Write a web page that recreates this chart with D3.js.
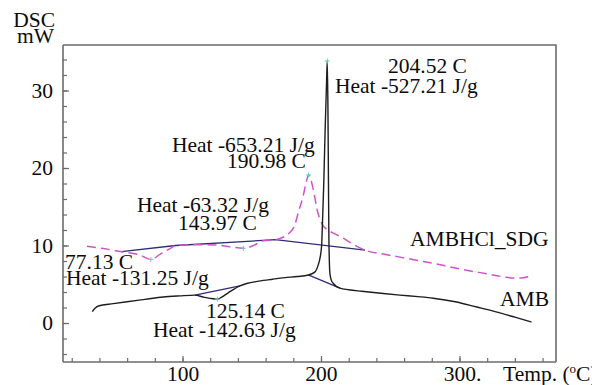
<!DOCTYPE html>
<html>
<head>
<meta charset="utf-8">
<script src="https://cdn.jsdelivr.net/npm/d3@7"></script>
<style>
  html, body { margin: 0; padding: 0; background: #fff; }
  text { font-family: "Liberation Serif", "Times New Roman", serif; fill: #0c0c0c; }
</style>
</head>
<body>
<svg id="chart" width="592" height="385"></svg>
<script>
// DSC thermogram: heat flow (mW) against temperature (°C)

// AMB run
const ambTemp = [34.9, 36.8, 39.2, 50, 60, 73, 86, 98, 109, 115, 120, 125.14, 128, 133, 141.5,
  146.3, 155, 165, 174, 183, 190.8, 195.7, 198, 199.3, 200.5, 201, 202, 203, 204, 204.52,
  205.0, 205.4, 205.7, 206.0, 206.5, 207.5, 208.9, 213.7, 220, 229.4, 245, 257, 270, 281,
  297, 312.6, 325, 340, 352];
const ambFlow = [1.46, 1.9, 2.2, 2.5, 2.75, 3.05, 3.35, 3.5, 3.6, 3.35, 3.18, 3.08, 3.3, 3.9, 4.8,
  5.1, 5.4, 5.65, 5.85, 6.0, 6.2, 6.6, 7.5, 8.4, 10.1, 12.6, 18, 25, 31, 33.8,
  28, 18, 11, 8.2, 6.3, 5.5, 5.1, 4.5, 4.3, 4.1, 3.8, 3.6, 3.4, 3.2,
  2.75, 2.06, 1.5, 0.75, 0.13];

// AMBHCl_SDG run
const sdgTemp = [31, 43, 56, 69, 77.13, 84, 91, 95, 110, 124.7, 134, 143.97, 150, 158.3, 167,
  173, 177, 181, 183.5, 187, 189.5, 190.98, 192.5, 194.2, 197.8, 201.4, 205, 210, 216, 222,
  231.8, 245, 257, 269, 281, 293, 305, 315, 324, 332, 339, 346, 352];
const sdgFlow = [9.9, 9.6, 9.2, 8.8, 8.2, 8.9, 9.6, 10.0, 10.1, 10.06, 9.85, 9.65, 9.9, 10.6, 10.75,
  11.1, 11.6, 12.6, 14.2, 16.3, 18.3, 19.1, 18.6, 17.4, 14.2, 12.6, 12.0, 11.5, 10.95, 10.3,
  9.4, 8.9, 8.5, 8.1, 7.7, 7.25, 6.8, 6.5, 6.2, 5.95, 5.8, 5.85, 6.1];

// Peak integration baselines, [temperature, heat flow] vertices
const ambBaselines = [[[109, 3.6], [141.5, 4.8]], [[190.8, 6.2], [213.7, 4.5]]];
const sdgBaselines = [[[56, 9.2], [95, 10.0], [167, 10.75], [231.8, 9.4]]];

// Peak annotations
const peakTemps  = [204.52, 190.98, 143.97, 77.13, 125.14];
const peakHeats  = [-527.21, -653.21, -63.32, -131.25, -142.63];
const peakSeries = ["AMB", "SDG", "SDG", "SDG", "AMB"];

// Axis ticks
const xTickLabels = [100, 200, 300];
const yTickLabels = [0, 10, 20, 30];
const seriesNames = ["AMBHCl_SDG", "AMB"];

const svg = d3.select("#chart");
const plot = { left: 63, right: 556, top: 45, bottom: 362 };

const x = d3.scaleLinear().domain([13.7, 369.7]).range([plot.left, plot.right]);
const y = d3.scaleLinear().domain([-5.03, 35.87]).range([plot.bottom, plot.top]);

const fontSize = 21.5;
const axisColor = "#6b6b6b";

// frame: top and right edges
svg.append("path")
  .attr("d", `M${plot.left},${plot.top}H${plot.right}V${plot.bottom}`)
  .attr("fill", "none").attr("stroke", axisColor).attr("stroke-width", 1.6);

// left axis: minor ticks every 2 mW, labelled every 10
const yMinor = d3.range(-4, 35, 2);
const gy = svg.append("g").attr("transform", `translate(${plot.left},0)`);
gy.call(d3.axisLeft(y).tickValues(yMinor).tickSize(-4).tickSizeOuter(0).tickFormat(""));
const gyLabels = gy.append("g");
gyLabels.call(d3.axisLeft(y).tickValues(yTickLabels).tickSize(-6).tickSizeOuter(0)
  .tickPadding(10).tickFormat(d3.format("d")));
gyLabels.select(".domain").remove();
gy.selectAll("path.domain").attr("d", `M0,${plot.top}V${plot.bottom}`);

// bottom axis: ticks every 20 °C, labelled every 100
const xMinor = d3.range(20, 370, 20);
const gx = svg.append("g").attr("transform", `translate(0,${plot.bottom})`);
gx.call(d3.axisBottom(x).tickValues(xMinor).tickSize(-4).tickSizeOuter(0).tickFormat(""));
const gxLabels = gx.append("g");
gxLabels.call(d3.axisBottom(x).tickValues(xTickLabels).tickSize(-6).tickSizeOuter(0)
  .tickPadding(4).tickFormat(d3.format("d")));
gxLabels.select(".domain").remove();
gx.selectAll("path.domain").attr("d", `M${plot.left},0H${plot.right}`);

svg.selectAll(".tick line").attr("stroke", axisColor).attr("stroke-width", 1.2);
svg.selectAll(".domain").attr("stroke", axisColor).attr("stroke-width", 1.6);
svg.selectAll(".tick text")
  .attr("font-family", '"Liberation Serif", "Times New Roman", serif')
  .attr("font-size", fontSize).attr("fill", "#0c0c0c");

// last temperature label carries a trailing period
gxLabels.selectAll(".tick text").filter(d => d === 300).each(function () {
  const t = d3.select(this);
  const w = this.getComputedTextLength();
  t.attr("text-anchor", "start").attr("x", -w / 2).text("300.");
});

// axis titles
svg.append("text").attr("x", 55).attr("y", 27).attr("text-anchor", "end")
  .attr("font-size", fontSize).text("DSC");
svg.append("text").attr("x", 54).attr("y", 43).attr("text-anchor", "end")
  .attr("font-size", fontSize).text("mW");
const tt = svg.append("text").attr("x", 503).attr("y", 381).attr("font-size", fontSize);
tt.append("tspan").text("Temp. (");
tt.append("tspan").attr("font-size", 13).attr("dy", -8).text("o");
tt.append("tspan").attr("dy", 8).text("C)");

// curves
const line = d3.line().x(d => x(d[0])).y(d => y(d[1])).curve(d3.curveMonotoneX);
const ambData = d3.zip(ambTemp, ambFlow);
const sdgData = d3.zip(sdgTemp, sdgFlow);
const baseLine = d3.line().x(d => x(d[0])).y(d => y(d[1]));

svg.append("g").selectAll("path").data(ambBaselines.concat(sdgBaselines)).join("path")
  .attr("d", baseLine).attr("fill", "none")
  .attr("stroke", "#2d2d72").attr("stroke-width", 1.3);

svg.append("path").datum(sdgData).attr("d", line)
  .attr("fill", "none").attr("stroke", "#cc55cc").attr("stroke-width", 1.5)
  .attr("stroke-dasharray", "9,5");

svg.append("path").datum(ambData).attr("d", line)
  .attr("fill", "none").attr("stroke", "#1e1e1e").attr("stroke-width", 1.4);

// peak markers
const peakPoint = (t, s) => {
  const temps = s === "AMB" ? ambTemp : sdgTemp;
  const flows = s === "AMB" ? ambFlow : sdgFlow;
  return [t, flows[temps.indexOf(t)]];
};
const markers = svg.append("g").attr("stroke", "#66cccc").attr("stroke-width", 1);
peakTemps.forEach((t, i) => {
  const p = peakPoint(t, peakSeries[i]);
  const px = x(p[0]), py = y(p[1]);
  markers.append("path").attr("d", `M${px - 2.5},${py}H${px + 2.5}M${px},${py - 2.5}V${py + 2.5}`);
});

// peak annotations: [temperature label x, y, heat label x, y]
const annotLayout = [
  [388, 73, 335, 93],
  [227, 168, 172, 152],
  [178, 230, 137, 212],
  [65, 269, 66, 285],
  [206, 318, 153, 337]
];
const notes = svg.append("g").attr("font-size", fontSize);
peakTemps.forEach((t, i) => {
  const [tx, ty, hx, hy] = annotLayout[i];
  notes.append("text").attr("x", tx).attr("y", ty).text(`${t.toFixed(2)} C`);
  notes.append("text").attr("x", hx).attr("y", hy).text(`Heat ${peakHeats[i].toFixed(2)} J/g`);
});

// series names
svg.append("text").attr("x", 410).attr("y", 246).attr("font-size", fontSize).text(seriesNames[0]);
svg.append("text").attr("x", 500).attr("y", 306).attr("font-size", fontSize).text(seriesNames[1]);
</script>
</body>
</html>
